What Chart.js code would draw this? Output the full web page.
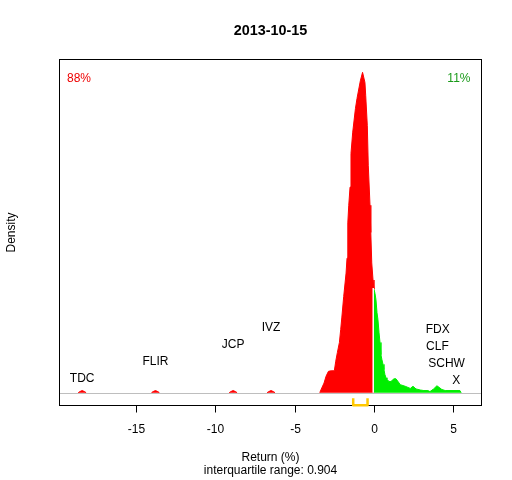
<!DOCTYPE html>
<html>
<head>
<meta charset="utf-8">
<script src="https://cdn.jsdelivr.net/npm/chart.js@4.4.1/dist/chart.umd.min.js"></script>
<style>
  html, body { margin: 0; padding: 0; background: #fff; }
  canvas { display: block; }
</style>
</head>
<body>
<canvas id="density-chart" width="512" height="480"></canvas>
<script>
const chartTitle = '2013-10-15';
const iqrValue = 0.904;
const quartiles = [-1.31, -0.406];
const xTicks = [-15, -10, -5, 0, 5];
const shareDown = 88;
const shareUp = 11;

// density of returns below zero (null = gap between outlier bumps)
const downX = [
    -18.65, -18.55, -18.40, -18.25, -18.15, -16.0,
    -14.03, -13.93, -13.78, -13.63, -13.53, -11.0,
    -9.13, -9.03, -8.88, -8.73, -8.63, -7.6,
    -6.74, -6.64, -6.49, -6.34, -6.24, -5.0,
    -3.42, -3.29, -3.15, -3.02, -2.87, -2.70, -2.50, -2.41, -2.31, -2.18,
    -2.10, -2.03, -1.91, -1.76, -1.70, -1.66, -1.64, -1.59, -1.51, -1.45,
    -1.34, -1.17, -1.07, -0.86, -0.72, -0.57, -0.52, -0.42, -0.36, -0.25,
    -0.20, -0.14, -0.06, 0
];
const downY = [
    0, 0.002, 0.004, 0.002, 0, null,
    0, 0.002, 0.004, 0.002, 0, null,
    0, 0.002, 0.004, 0.002, 0, null,
    0, 0.002, 0.004, 0.002, 0, null,
    0, 0.009, 0.018, 0.031, 0.040, 0.041, 0.041, 0.059, 0.075, 0.094,
    0.118, 0.140, 0.180, 0.224, 0.252, 0.305, 0.318, 0.351, 0.385, 0.448,
    0.488, 0.532, 0.551, 0.584, 0.600, 0.581, 0.556, 0.500, 0.426, 0.351,
    0.300, 0.243, 0.211, 0.194
];

// density of returns above zero
const upX = [
    0, 0.063, 0.126, 0.19, 0.25, 0.32, 0.38, 0.44, 0.50, 0.57, 0.63, 0.69,
    0.76, 0.82, 0.95, 1.07, 1.26, 1.39, 1.66, 1.97, 2.29, 2.46, 2.65, 2.92,
    3.15, 3.40, 3.53, 3.76, 3.97, 4.28, 4.49, 5.42, 5.50
];
const upY = [
    0.194, 0.186, 0.174, 0.150, 0.137, 0.112, 0.094, 0.071, 0.062, 0.053, 0.043, 0.034,
    0.028, 0.025, 0.021, 0.021, 0.026, 0.026, 0.015, 0.012, 0.008, 0.012, 0.007, 0.005,
    0.004, 0.004, 0.002, 0.007, 0.013, 0.006, 0.004, 0.004, 0
];

const leftNames = ['TDC', 'FLIR', 'JCP', 'IVZ'];
const leftReturns = [-18.40, -13.78, -8.88, -6.49];
const rightNames = ['FDX', 'CLF', 'SCHW', 'X'];
const rightReturns = [4.02, 4.00, 4.58, 5.19];

const RED = '#ff0000';
const GREEN = '#00ee00';
const FONT = '"Liberation Sans", Arial, sans-serif';

function toPoints(xs, ys) {
    return xs.map((v, i) => ({ x: v, y: ys[i] }));
}

const decorations = {
    id: 'decorations',
    afterDatasetsDraw(chart) {
        const { ctx, chartArea: a, scales: { x, y } } = chart;
        const y0 = y.getPixelForValue(0);
        const x0 = x.getPixelForValue(0);
        ctx.save();

        // white split between the two halves
        ctx.strokeStyle = '#ffffff';
        ctx.lineWidth = 1.5;
        ctx.beginPath();
        ctx.moveTo(x0 - 0.75, y0);
        ctx.lineTo(x0 - 0.75, y.getPixelForValue(downY[downY.length - 1]) - 1);
        ctx.stroke();

        // zero line
        const yb = Math.round(y0) + 0.5;
        ctx.strokeStyle = '#bebebe';
        ctx.lineWidth = 1;
        ctx.beginPath();
        ctx.moveTo(a.left, yb);
        ctx.lineTo(a.right, yb);
        ctx.stroke();

        // frame
        ctx.strokeStyle = '#000000';
        ctx.strokeRect(a.left, a.top, a.right - a.left, a.bottom - a.top);

        // x ticks
        ctx.fillStyle = '#000000';
        ctx.font = '12px ' + FONT;
        ctx.textAlign = 'center';
        ctx.textBaseline = 'alphabetic';
        xTicks.forEach(t => {
            const px = Math.round(x.getPixelForValue(t)) + 0.5;
            ctx.beginPath();
            ctx.moveTo(px, a.bottom);
            ctx.lineTo(px, a.bottom + 7);
            ctx.stroke();
            ctx.fillText(String(t), px, 432.5);
        });

        // interquartile bracket
        const q1 = x.getPixelForValue(quartiles[0]);
        const q3 = x.getPixelForValue(quartiles[1]);
        ctx.strokeStyle = '#ffc800';
        ctx.lineWidth = 2.5;
        ctx.lineJoin = 'round';
        ctx.beginPath();
        ctx.moveTo(q1, y0 + 5.5);
        ctx.lineTo(q1, y0 + 12.5);
        ctx.lineTo(q3, y0 + 12.5);
        ctx.lineTo(q3, y0 + 5.5);
        ctx.stroke();

        // stock labels
        leftNames.forEach((n, i) => {
            ctx.fillText(n, x.getPixelForValue(leftReturns[i]), 382 - 17 * i);
        });
        rightNames.forEach((n, i) => {
            ctx.fillText(n, x.getPixelForValue(rightReturns[i]), 332.5 + 17 * i);
        });

        // shares
        ctx.textAlign = 'left';
        ctx.fillStyle = '#ee0000';
        ctx.fillText(shareDown + '%', a.left + 7.5, 82);
        ctx.textAlign = 'right';
        ctx.fillStyle = '#1a9a1a';
        ctx.fillText(shareUp + '%', a.right - 11, 82);

        // titles
        const cx = (a.left + a.right) / 2;
        ctx.fillStyle = '#000000';
        ctx.textAlign = 'center';
        ctx.fillText('Return (%)', cx, 461);
        ctx.fillText('interquartile range: ' + iqrValue, cx, 474);
        ctx.font = 'bold 14.4px ' + FONT;
        ctx.fillText(chartTitle, cx, 35.2);

        ctx.font = '12px ' + FONT;
        ctx.translate(14.5, (a.top + a.bottom) / 2);
        ctx.rotate(-Math.PI / 2);
        ctx.fillText('Density', 0, 0);

        ctx.restore();
    }
};

const ctx = document.getElementById('density-chart').getContext('2d');
new Chart(ctx, {
    type: 'line',
    data: {
        datasets: [{
            data: toPoints(downX, downY),
            borderColor: RED,
            backgroundColor: RED,
            borderWidth: 1,
            fill: 'origin',
            pointRadius: 0,
            tension: 0
        }, {
            data: toPoints(upX, upY),
            borderColor: GREEN,
            backgroundColor: GREEN,
            borderWidth: 1,
            fill: 'origin',
            pointRadius: 0,
            tension: 0
        }]
    },
    options: {
        responsive: false,
        animation: false,
        layout: {
            padding: { left: 59.5, top: 59.5, right: 30.5, bottom: 74.5 }
        },
        scales: {
            x: { type: 'linear', min: -19.83, max: 6.78, display: false },
            y: { min: -0.024, max: 0.624, display: false }
        },
        plugins: {
            legend: { display: false },
            tooltip: { enabled: false }
        }
    },
    plugins: [decorations]
});
</script>
</body>
</html>
